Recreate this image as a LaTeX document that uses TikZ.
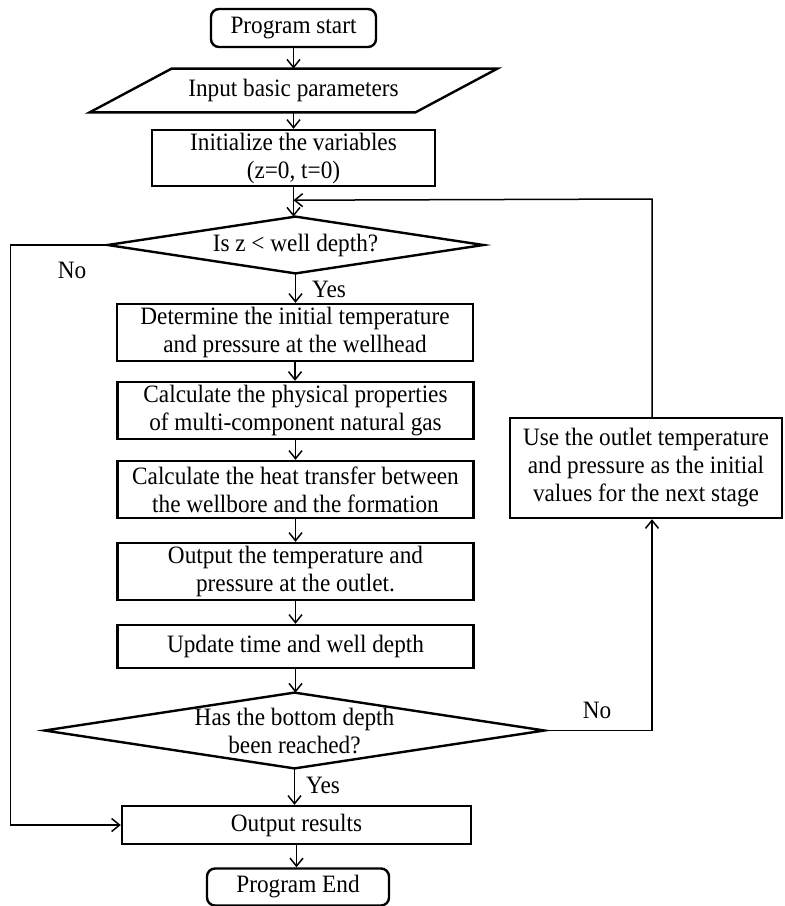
\documentclass[tikz,border=0pt]{standalone}
\usepackage{fontspec}
\setmainfont{Liberation Serif}[FakeStretch=0.93]
\usetikzlibrary{arrows.meta, calc}

\begin{document}
\begin{tikzpicture}[x=0.5pt,y=-0.5pt,font=\fontsize{12.5}{14}\selectfont,
    >={Straight Barb[length=4pt,width=6.5pt]},
    box/.style={draw,line width=1.2pt,align=center,inner sep=0pt,minimum width=178pt,minimum height=28.5pt},
    term/.style={box,rounded corners=4pt,minimum height=19pt},
    flat/.style={align=center,inner sep=0pt},
    line/.style={line width=0.75pt}]
    \useasboundingbox (0,0) rectangle (784,906);
    \node [term,minimum width=82.5pt] (start) at (293.5,28) {Program start};
    \node [flat,minimum width=203.5pt,minimum height=21.5pt] (input) at (293.5,90.5) {Input basic parameters};
    \draw [line width=1.2pt] ([xshift=41pt]input.north west) -- (input.north east) -- ([xshift=-41pt]input.south east) -- (input.south west) -- cycle;
    \node [box,minimum width=141.5pt,minimum height=28pt] (init) at (293.5,158) {Initialize the variables\\(z=0, t=0)};
    \node [flat,minimum width=187.5pt,minimum height=28pt] (dec1) at (295.5,245) {Is z < well depth?};
    \draw [line width=1.2pt] (dec1.north) -- (dec1.east) -- (dec1.south) -- (dec1.west) -- cycle;
    \node [box] (det) at (295,332.5) {Determine the initial temperature\\and pressure at the wellhead};
    \node [box] (phys) at (295.5,410.5) {Calculate the physical properties\\of multi-component natural gas};
    \node [box] (heat) at (295.5,489.5) {Calculate the heat transfer between\\the wellbore and the formation};
    \node [box] (outlet) at (295.5,571.5) {Output the temperature and\\pressure at the outlet.};
    \node [box,minimum height=21.5pt] (update) at (295.5,646.5) {Update time and well depth};
    \node [flat,minimum width=249.5pt,minimum height=37.5pt] (dec2) at (294.5,730.5) {Has the bottom depth\\been reached?};
    \draw [line width=1.2pt] (dec2.north) -- (dec2.east) -- (dec2.south) -- (dec2.west) -- cycle;
    \node [box,minimum width=174.5pt,minimum height=19pt] (results) at (296.5,825) {Output results};
    \node [term,minimum width=91pt,minimum height=18.5pt] (end) at (298,887) {Program End};
    \node [box,minimum width=136pt,minimum height=50pt] (use) at (646,468) {Use the outlet temperature\\and pressure as the initial\\values for the next stage};
    \coordinate (join) at ($(init.south)+(0,13)$);
    \coordinate (turn) at (652,199);
    \draw [line,->] (start) -- (input);
    \draw [line,->] (input) -- (init);
    \draw [line,->] (init.south) -- (init.south |- dec1.north);
    \draw [line,->] (dec1.south) -- (dec1.south |- det.north);
    \draw [line,->] (det.south) -- (det.south |- phys.north);
    \draw [line,->] (phys.south) -- (phys.south |- heat.north);
    \draw [line,->] (heat.south) -- (heat.south |- outlet.north);
    \draw [line,->] (outlet.south) -- (outlet.south |- update.north);
    \draw [line,->] (update.south) -- (update.south |- dec2.north);
    \draw [line,->] (dec2.south) -- (dec2.south |- results.north);
    \draw [line,->] (results.south) -- (results.south |- end.north);
    \draw [line,->] (dec2.east) -- (dec2.east -| turn) -- (use.south -| turn);
    \draw [line,->] (use.north -| turn) -- (turn) -- (join);
    \draw [line,->] (dec1.west) -- ++(-97,0) |- (results.west);
    \node (no1) at (72,270) {No};
    \node (yes1) at (329,289) {Yes};
    \node (no2) at (597,710) {No};
    \node (yes2) at (323,785) {Yes};
\end{tikzpicture}
\end{document}
